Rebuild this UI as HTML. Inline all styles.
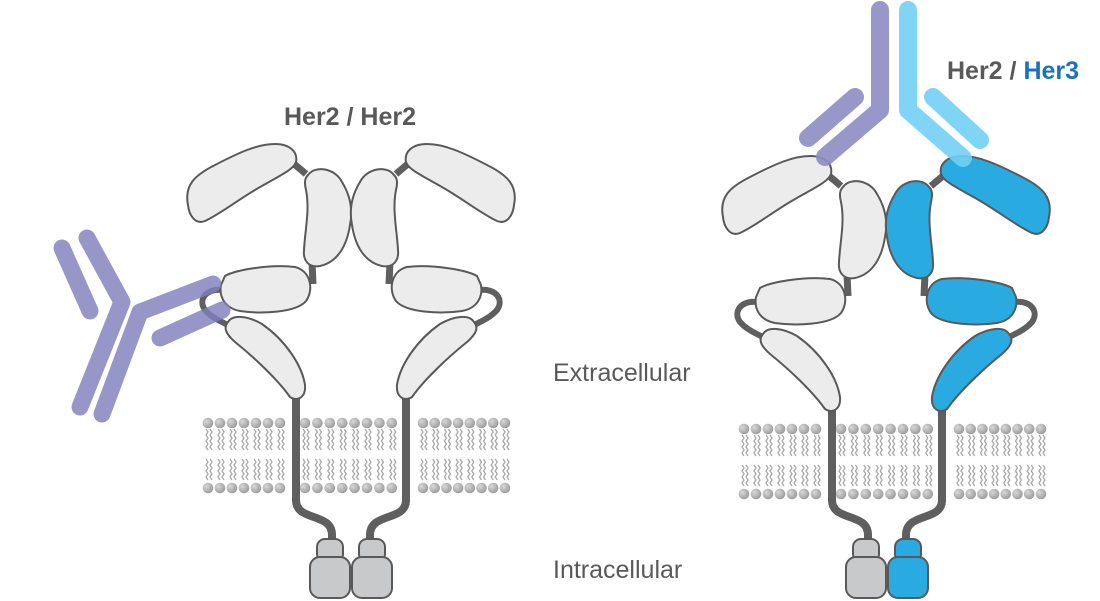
<!DOCTYPE html>
<html><head><meta charset="utf-8"><style>
html,body{margin:0;padding:0;background:#fff;}
svg{display:block;}
text{font-family:"Liberation Sans",sans-serif;}
</style></head><body>
<svg width="1100" height="601" viewBox="0 0 1100 601" xmlns="http://www.w3.org/2000/svg">
<defs>
<radialGradient id="hg" cx="0.35" cy="0.35" r="0.7"><stop offset="0" stop-color="#d8d8d8"/><stop offset="1" stop-color="#9a9a9a"/></radialGradient>
<g id="lipid">
  <circle cx="0" cy="0" r="5.3" fill="url(#hg)"/>
  <circle cx="0" cy="65" r="5.3" fill="url(#hg)"/>
  <path d="M-2,6 l2,3 l-2,3 l2,3 l-2,3 l2,3 l-2,3 l2,3 M2,6 l2,3 l-2,3 l2,3 l-2,3 l2,3 l-2,3 l2,3 M-2,36 l2,3 l-2,3 l2,3 l-2,3 l2,3 l-2,3 l2,3 M2,36 l2,3 l-2,3 l2,3 l-2,3 l2,3 l-2,3 l2,3" fill="none" stroke="#a8a8a8" stroke-width="1.3"/>
</g>
<g id="mem">
  <use href="#lipid" x="208"/><use href="#lipid" x="220"/><use href="#lipid" x="232"/><use href="#lipid" x="244"/><use href="#lipid" x="256"/><use href="#lipid" x="268"/><use href="#lipid" x="280"/>
  <use href="#lipid" x="305"/><use href="#lipid" x="317.4"/><use href="#lipid" x="329.8"/><use href="#lipid" x="342.2"/><use href="#lipid" x="354.6"/><use href="#lipid" x="367"/><use href="#lipid" x="379.4"/><use href="#lipid" x="391.8"/>
  <use href="#lipid" x="423"/><use href="#lipid" x="434.7"/><use href="#lipid" x="446.4"/><use href="#lipid" x="458.1"/><use href="#lipid" x="469.8"/><use href="#lipid" x="481.5"/><use href="#lipid" x="493.2"/><use href="#lipid" x="505"/>
</g>
<g id="ecd" stroke="#595959" stroke-width="2">
  <path d="M293,163 L306,174" stroke="#5f5f5f" stroke-width="7" fill="none"/>
  <path d="M312,262 L313,284" stroke="#5f5f5f" stroke-width="7" fill="none"/>
  <path d="M224,290 C205,288 198,300 205,310 C212,318 222,322 230,326" stroke="#5f5f5f" stroke-width="6" fill="none"/>
  <path d="M188,205 C184,185 195,175 215,165 C240,152 258,144 275,144 C290,144 298,152 296,162 C294,170 275,178 255,190 C235,202 220,214 205,221 C195,225 189,215 188,205 Z"/>
  <path d="M308,175 C315,165 335,168 342,182 C350,195 353,210 350,225 C347,245 338,262 320,266 C308,268 303,260 304,250 C305,230 310,210 306,190 C304,182 305,178 308,175 Z"/>
  <path d="M225,276 C235,270 270,264 295,267 C311,271 314,290 306,301 C296,313 260,314 240,311 C224,308 219,296 221,285 Z"/>
  <path d="M228,322 C233,314 248,316 262,324 C285,340 302,365 305,385 C306,397 298,402 290,397 C278,380 255,358 235,342 C226,334 223,328 228,322 Z"/>
</g>
<g id="low" stroke="#595959" stroke-width="2">
  <path d="M296,392 L296,500 C296,522 332,512 332,535 L332,545" fill="none" stroke="#5f5f5f" stroke-width="8"/>
  <rect x="317" y="539" width="26" height="23" rx="8"/>
  <rect x="310" y="557" width="40" height="41" rx="10"/>
</g>
</defs>

<use href="#mem" transform="translate(0,423)"/>
<use href="#low" fill="#c8c9cb"/>
<use href="#low" fill="#c8c9cb" transform="translate(702,0) scale(-1,1)"/>
<use href="#ecd" fill="#ececec"/>
<use href="#ecd" fill="#ececec" transform="translate(702,0) scale(-1,1)"/>

<use href="#mem" transform="translate(536,429)"/>
<g transform="translate(536,0)">
  <use href="#low" fill="#c8c9cb"/>
  <use href="#low" fill="#29abe2" transform="translate(702,0) scale(-1,1)"/>
</g>
<g transform="translate(535,12)">
  <use href="#ecd" fill="#ececec"/>
  <use href="#ecd" fill="#29abe2" transform="translate(702,0) scale(-1,1)"/>
</g>

<g stroke="#7f7fbd" stroke-opacity="0.82" stroke-width="17" stroke-linecap="round" stroke-linejoin="round" fill="none">
  <path d="M62,248 L90,311"/>
  <path d="M87,238 L122,302 L80,407"/>
  <path d="M102,414 L140,312 L213,284"/>
  <path d="M160,338 L222,310"/>
</g>

<g stroke-width="18" stroke-linecap="round" stroke-linejoin="round" fill="none" stroke-opacity="0.9">
  <path d="M880,10 L880,110 L825,157" stroke="#8c8cc4"/>
  <path d="M808,138 L855,97" stroke="#8c8cc4"/>
  <path d="M908,10 L908,110 L963,158" stroke="#72cff4"/>
  <path d="M933,97 L980,140" stroke="#72cff4"/>
</g>

<text x="350" y="125" text-anchor="middle" font-size="25" font-weight="bold" fill="#595959">Her2 / Her2</text>
<text x="947" y="79" font-size="25" font-weight="bold" fill="#595959">Her2 / <tspan fill="#1a73b8">Her3</tspan></text>
<text x="553" y="381" font-size="25" fill="#595959">Extracellular</text>
<text x="553" y="578" font-size="25" fill="#595959">Intracellular</text>
</svg>
</body></html>
